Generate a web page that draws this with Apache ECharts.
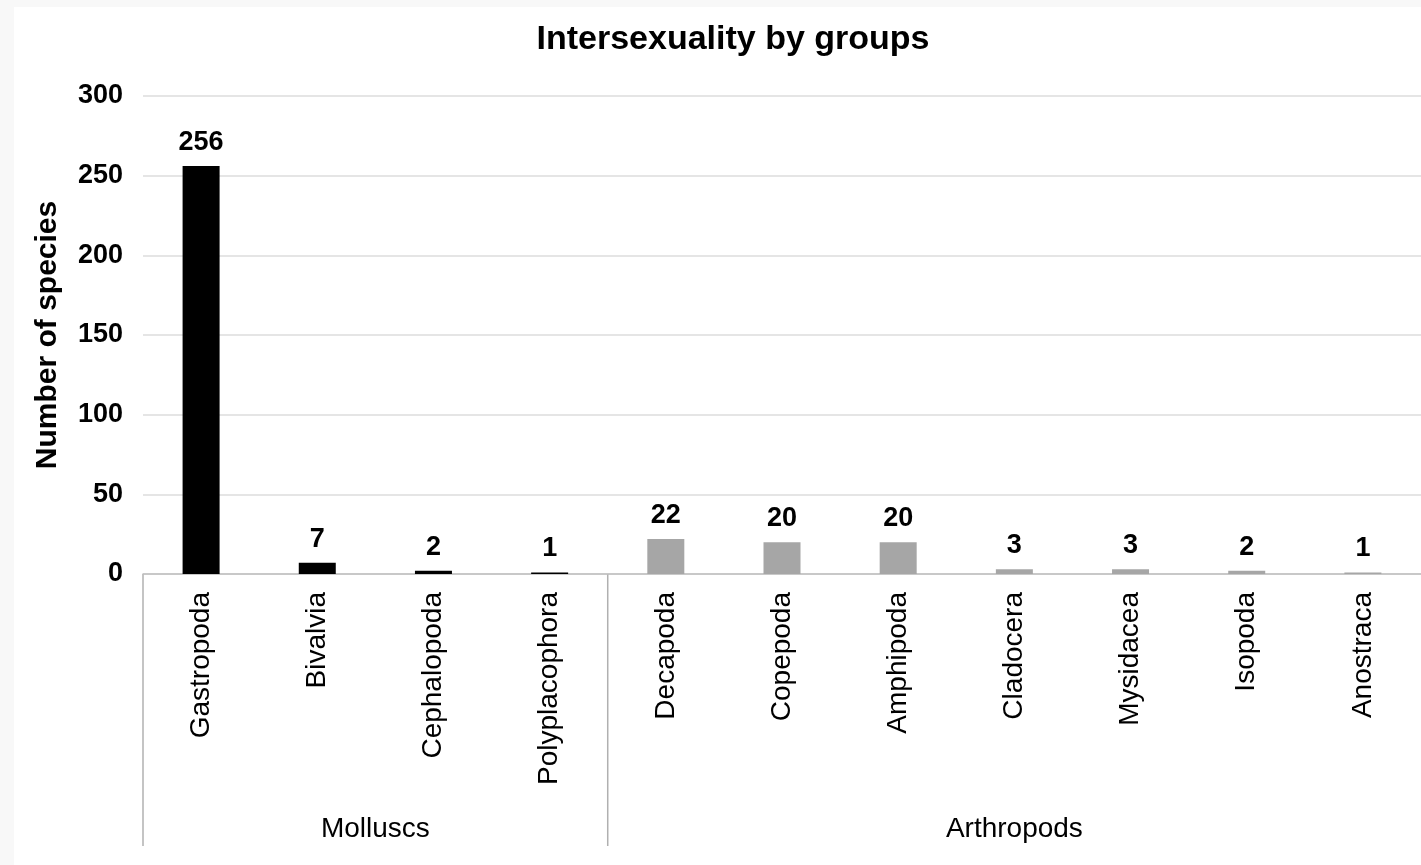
<!DOCTYPE html>
<html>
<head>
<meta charset="utf-8">
<script src="https://cdn.jsdelivr.net/npm/echarts@6/dist/echarts.min.js"></script>
<style>
  html, body { margin: 0; padding: 0; background: #f8f8f8; }
  #chart {
    position: absolute;
    left: 14px;
    top: 7px;
    width: 1407px;
    height: 858px;
    background: #ffffff;
  }
</style>
</head>
<body>
<div id="chart"></div>
<script>
const categories = ['Gastropoda', 'Bivalvia', 'Cephalopoda', 'Polyplacophora',
  'Decapoda', 'Copepoda', 'Amphipoda', 'Cladocera', 'Mysidacea', 'Isopoda', 'Anostraca'];
const species = [256, 7, 2, 1, 22, 20, 20, 3, 3, 2, 1];
const groupOf = ['Molluscs', 'Molluscs', 'Molluscs', 'Molluscs',
  'Arthropods', 'Arthropods', 'Arthropods', 'Arthropods', 'Arthropods', 'Arthropods', 'Arthropods'];
const groups = ['Molluscs', 'Arthropods'];
const groupColors = { Molluscs: '#000000', Arthropods: '#a6a6a6' };
const yTicks = [0, 50, 100, 150, 200, 250, 300];

const font = '"Liberation Sans", Arial, sans-serif';
const chart = echarts.init(document.getElementById('chart'));

const option = {
  animation: false,
  textStyle: { fontFamily: font },
  title: {
    text: 'Intersexuality by groups',
    left: 714,
    top: 11,
    textAlign: 'center',
    textStyle: { fontSize: 34, fontWeight: 'bold', color: '#000', fontFamily: font }
  },
  grid: {
    left: 129,
    top: 89,
    width: 1287,
    bottom: 291
  },
  xAxis: {
    type: 'category',
    data: categories,
    axisLine: { lineStyle: { color: '#bfbfbf', width: 1.5 } },
    axisTick: { show: false },
    axisLabel: {
      rotate: 90,
      interval: 0,
      margin: 18,
      fontSize: 28,
      color: '#000',
      fontFamily: font
    }
  },
  yAxis: {
    type: 'value',
    min: yTicks[0],
    max: yTicks[yTicks.length - 1],
    interval: 50,
    name: 'Number of species',
    nameLocation: 'middle',
    nameGap: 80,
    nameTextStyle: { fontSize: 30, fontWeight: 'bold', color: '#000', fontFamily: font },
    axisLine: { show: false },
    axisTick: { show: false },
    axisLabel: { fontSize: 27, fontWeight: 'bold', color: '#000', margin: 20, fontFamily: font },
    splitLine: { lineStyle: { color: '#dcdcdc', width: 1.5 } }
  },
  series: [{
    type: 'bar',
    barWidth: 37,
    data: species.map((v, i) => ({
      value: v,
      itemStyle: { color: groupColors[groupOf[i]] }
    })),
    label: {
      show: true,
      position: 'top',
      distance: 10,
      fontSize: 27,
      fontWeight: 'bold',
      color: '#000',
      fontFamily: font
    }
  }]
};

chart.setOption(option);

// group separators and names under the category labels
function drawGroups() {
  const step = chart.convertToPixel({ xAxisIndex: 0 }, categories[1]) -
    chart.convertToPixel({ xAxisIndex: 0 }, categories[0]);
  const y0 = chart.convertToPixel({ yAxisIndex: 0 }, 0);
  const elements = [];
  groups.forEach(g => {
    const idx = groupOf.map((x, i) => x === g ? i : -1).filter(i => i >= 0);
    const first = idx[0], last = idx[idx.length - 1];
    const xl = chart.convertToPixel({ xAxisIndex: 0 }, categories[first]) - step / 2;
    const xr = chart.convertToPixel({ xAxisIndex: 0 }, categories[last]) + step / 2;
    elements.push({
      type: 'line',
      shape: { x1: xl, y1: y0, x2: xl, y2: y0 + 272 },
      style: { stroke: '#b0b0b0', lineWidth: 1.5 }
    });
    elements.push({
      type: 'text',
      x: (xl + xr) / 2,
      y: y0 + 255,
      style: {
        text: g,
        fontSize: 28,
        fill: '#000',
        fontFamily: font,
        align: 'center',
        verticalAlign: 'middle'
      }
    });
  });
  chart.setOption({ graphic: elements });
}
drawGroups();
</script>
</body>
</html>
